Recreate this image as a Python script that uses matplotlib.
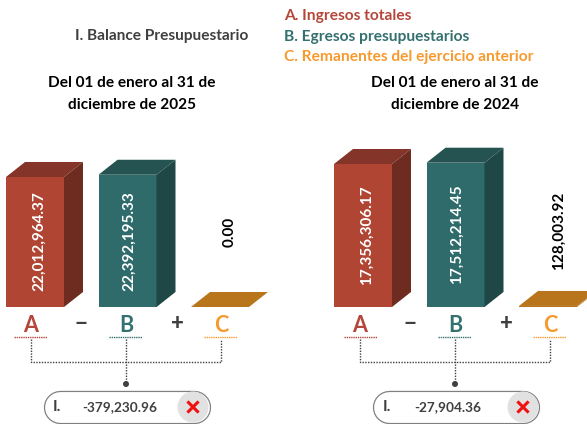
import matplotlib
matplotlib.use("Agg")

import matplotlib.pyplot as plt
from matplotlib.patches import Polygon, Circle

plt.rcParams["font.family"] = ["Lato", "DejaVu Sans"]

letters = ["A", "B", "C"]
values_2025 = [22012964.37, 22392195.33, 0.00]
values_2024 = [17356306.17, 17512214.45, 128003.92]
balance_2025 = "-379,230.96"
balance_2024 = "-27,904.36"
legend_labels = ["A. Ingresos totales", "B. Egresos presupuestarios",
                 "C. Remanentes del ejercicio anterior"]
title_left = "Del 01 de enero al 31 de\ndiciembre de 2025"
title_right = "Del 01 de enero al 31 de\ndiciembre de 2024"

FRONT = ["#B04534", "#2F6B6B", "#B8751C"]
SIDE = ["#6E2B20", "#1F4746", "#B8751C"]
TOP = ["#843428", "#255352", "#B8751C"]
TEXT = ["#B5473A", "#33706F", "#F79A2E"]
GRAY = "#404040"
W, H = 587, 424
BASE = 307
UNIT = 92.5   # px between bars
DX, DY = 19, 15  # 3d offset in px

fig = plt.figure(figsize=(W / 100, H / 100), dpi=100)

# overlay in pixel coordinates for the labels and connectors
ov = fig.add_axes([0, 0, 1, 1], zorder=3)
ov.set_xlim(0, W)
ov.set_ylim(H, 0)
ov.axis("off")
ov.patch.set_alpha(0)


def draw_bars(values, x0, px_per_unit):
    # axes spans x0..x0+293 px, baseline at BASE, category 0 centred at x0
    start = max(x0 - 35.5, 0)
    ax = fig.add_axes([start / W, (H - BASE) / H, 293 / W, 200 / H], zorder=1)
    ax.set_xlim((start - x0) / UNIT, (start + 293 - x0) / UNIT)
    ax.set_ylim(0, 200 / px_per_unit)
    ax.axis("off")
    dx, dy = DX / UNIT, DY / px_per_unit
    hw = 29 / UNIT
    for i, v in enumerate(values):
        ax.bar(i, v, width=2 * hw, color=FRONT[i], linewidth=0)
        ax.add_patch(Polygon([(i - hw, v), (i + hw, v), (i + hw + dx, v + dy), (i - hw + dx, v + dy)],
                             color=TOP[i], lw=0, clip_on=False))
        ax.add_patch(Polygon([(i + hw, 0), (i + hw + dx, dy), (i + hw + dx, v + dy), (i + hw, v)],
                             color=SIDE[i], lw=0, clip_on=False))


def draw_labels(values, xa, xb, xc, xm, xp, under, lab_xy, val_xy, pill, circ_x, i_x, bal_x, balance):
    for t, x, c in zip(letters, [xa, xb, xc], TEXT):
        ov.text(x, 325, t, color=c, fontsize=15.5, fontweight="bold", ha="center", va="center")
    ov.text(xm, 323, "\u2212", color=GRAY, fontsize=16, fontweight=900, ha="center", va="center")
    ov.text(xp, 323, "+", color=GRAY, fontsize=16, fontweight=900, ha="center", va="center")

    for ux, c in zip(under, TEXT):
        ov.plot([ux, ux + 33], [337, 337], color=c, lw=1, ls=(0, (1, 0.6)))
    ov.plot([xa, xa, xc, xc], [339, 362, 362, 339], color=GRAY, lw=1, ls=(0, (1, 1)))
    ov.plot([xb, xb], [339, 382], color=GRAY, lw=1, ls=(0, (1, 1)))
    ov.add_patch(Circle((xb, 384), 3, color=GRAY, lw=0))

    # pill drawn as a thick round-capped line, white core over gray rim
    ov.plot([pill + 16, pill + 150], [407, 407], color="#808080", lw=24, solid_capstyle="round")
    ov.plot([pill + 16, pill + 150], [407, 407], color="white", lw=22.2, solid_capstyle="round")
    ov.add_patch(Circle((circ_x, 407), 15.5, color="#E1E1E1", lw=0, zorder=3))
    ov.plot([circ_x - 4.5, circ_x + 4.5], [402.5, 411.5], color="#F01010", lw=2.2, zorder=4)
    ov.plot([circ_x - 4.5, circ_x + 4.5], [411.5, 402.5], color="#F01010", lw=2.2, zorder=4)
    ov.text(i_x, 407, "I.", color=GRAY, fontsize=11.5, fontweight="bold", ha="center", va="center")
    ov.text(bal_x, 407, balance, color=GRAY, fontsize=9.8, fontweight="bold", ha="center", va="center")

    for i in range(2):
        ov.text(lab_xy[i][0], lab_xy[i][1], f"{values[i]:,.2f}", color="white", fontsize=11,
                fontweight="bold", rotation=90, ha="center", va="center")
    ov.text(val_xy[0], val_xy[1], f"{values[2]:,.2f}", color="black", fontsize=11,
            fontweight="bold", rotation=90, ha="center", va="center")


draw_bars(values_2025, 35, 130 / values_2025[0])
draw_bars(values_2024, 363, 143 / values_2024[0])

draw_labels(values_2025, 31, 126, 221, 81, 177, [14, 109, 204], [(39, 241), (129, 241)], (230, 232),
            44, 193, 57, 120, balance_2025)
draw_labels(values_2024, 360, 455, 550, 410, 506, [344, 438, 533], [(367, 235), (457, 234)], (559, 231),
            373, 523, 387, 448, balance_2024)

ov.text(75, 36, "I. Balance Presupuestario", color=GRAY, fontsize=11.1, fontweight="bold", ha="left", va="center")
for y, t, c in zip([16, 37, 57], legend_labels, TEXT):
    ov.text(284, y, t, color=c, fontsize=11.15, fontweight="bold", ha="left", va="center")
ov.text(132, 94, title_left, color="black", fontsize=11.1, fontweight="bold", ha="center", va="center", linespacing=1.7)
ov.text(455, 94, title_right, color="black", fontsize=11.1, fontweight="bold", ha="center", va="center", linespacing=1.7)

fig.savefig("out.png", dpi=100)
plt.close(fig)
